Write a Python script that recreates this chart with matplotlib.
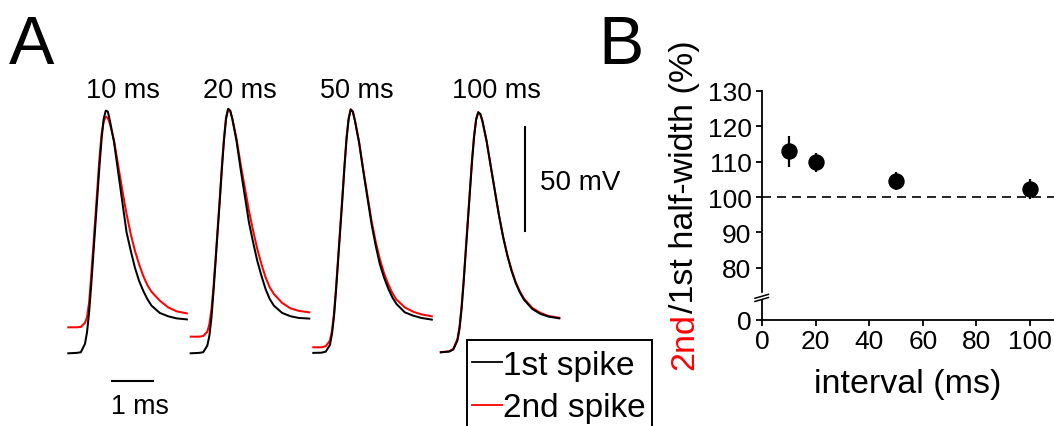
import numpy as np
import matplotlib
matplotlib.use("Agg")
import matplotlib.pyplot as plt
from matplotlib.lines import Line2D
from matplotlib.patches import Rectangle
import matplotlib.transforms as mtransforms

plt.rcParams['font.family'] = ['Liberation Sans', 'DejaVu Sans']

# ---------------- data ----------------
# Panel A: spike waveforms (time in ms from trace start, voltage in mV)
t_ms = [0, 0.2, 0.3, 0.4, 0.45, 0.5, 0.55, 0.6, 0.65, 0.7, 0.75, 0.8, 0.85, 0.9, 0.95,
        1.0, 1.1, 1.2, 1.3, 1.4, 1.5, 1.6, 1.7, 1.8, 1.9, 2.0, 2.2, 2.4, 2.6, 2.85]

first_10 = [-70.0, -69.8, -69.5, -65.5, -59.9, -50.3, -37.5, -23.0, -8.6, 5.8, 20.2, 33.1, 42.7, 46.7, 46.2,
            41.9, 31.4, 17.0, 2.6, -11.8, -20.6, -28.7, -35.1, -39.9, -43.9, -47.1, -50.6, -52.2, -53.2, -53.7]
second_10 = [-57.5, -57.5, -57.3, -55.4, -52.7, -45.5, -32.7, -19.0, -4.6, 9.8, 24.2, 35.5, 41.4, 43.8, 43.1,
             40.3, 32.3, 20.2, 8.2, -3.0, -12.6, -20.6, -27.1, -32.7, -37.2, -40.4, -44.7, -47.9, -49.8, -50.8]
first_20 = [-70.0, -69.8, -69.5, -66.3, -61.5, -52.7, -39.9, -25.5, -11.0, 3.4, 18.6, 32.3, 42.7, 47.5, 46.7,
            42.7, 32.3, 18.6, 5.8, -7.0, -16.6, -25.5, -32.7, -39.1, -43.9, -47.1, -50.6, -52.2, -53.0, -53.3]
second_20 = [-62.0, -62.0, -61.7, -59.6, -55.9, -48.7, -37.5, -23.8, -9.4, 5.0, 20.2, 33.4, 43.5, 47.5, 46.5,
             43.0, 33.4, 21.0, 9.8, -1.4, -11.0, -19.8, -27.1, -33.5, -38.3, -41.5, -45.8, -48.4, -49.6, -50.3]
first_50 = [-69.8, -69.7, -69.2, -66.0, -60.7, -51.9, -39.1, -24.7, -10.2, 4.2, 19.4, 33.1, 42.7, 47.2, 46.2,
            41.9, 31.4, 17.8, 5.0, -7.8, -18.2, -27.1, -33.5, -38.8, -43.1, -46.3, -50.3, -51.9, -53.0, -53.8]
second_50 = [-67.1, -67.1, -66.6, -63.9, -59.1, -50.3, -37.5, -23.0, -8.6, 5.8, 20.6, 33.9, 43.0, 47.3, 46.2,
             42.2, 31.8, 18.6, 6.1, -6.2, -16.3, -24.7, -31.4, -36.7, -41.0, -44.2, -47.9, -50.0, -51.3, -52.2]
first_100 = [-69.5, -69.2, -68.2, -63.9, -58.3, -48.7, -35.9, -21.4, -7.0, 7.4, 21.8, 33.9, 42.3, 45.9, 45.1,
             41.9, 32.3, 20.2, 8.2, -3.8, -14.2, -23.0, -30.3, -36.2, -40.7, -44.2, -48.7, -51.1, -52.4, -53.2]
second_100 = [-69.5, -69.0, -67.9, -63.1, -57.2, -47.4, -34.6, -20.2, -5.7, 8.7, 23.0, 34.7, 42.7, 45.9, 44.9,
              41.5, 31.9, 19.9, 7.9, -3.8, -14.1, -22.7, -29.8, -35.7, -40.2, -43.7, -48.2, -50.6, -52.1, -52.9]

trace_intervals = [10, 20, 50, 100]
first_spikes = [first_10, first_20, first_50, first_100]
second_spikes = [second_10, second_20, second_50, second_100]

# Panel B: 2nd/1st half-width ratio (%)
interval_ms = [10, 20, 50, 100]
ratio_pct = [112.9, 109.8, 104.5, 102.3]
ratio_err = [4.5, 2.6, 2.6, 2.8]
b_xticks = [0, 20, 40, 60, 80, 100]
b_yticks = [80, 90, 100, 110, 120, 130]

# ---------------- layout ----------------
W, H = 1054, 427
fig = plt.figure(figsize=(W / 100, H / 100), dpi=100)
fig.patch.set_facecolor('white')


def fx(px):
    return px / W


def fy(py):
    return 1 - py / H


FS_TICK = 19
FS_LABEL = 24.5
FS_PANEL = 49
FS_A = 19.5

# Panel A axes (ms / mV coordinates)
axA = fig.add_axes([0, 0, 640 / W, 1])
axA.set_xlim(-1.642, 13.743)
axA.set_ylim(-104.95, 100.34)
axA.axis('off')

trace_offsets = [0.0, 2.942, 5.889, 8.954]
t = np.array(t_ms)
for off, f1, s2 in zip(trace_offsets, first_spikes, second_spikes):
    axA.plot(t + off, s2, color='#ff0000', lw=1.45, clip_on=False, solid_joinstyle='round')
    axA.plot(t + off, f1, color='black', lw=1.45, clip_on=False, solid_joinstyle='round')

title_x = [123.3, 240.0, 356.7, 496.7]
for xc, iv in zip(title_x, trace_intervals):
    fig.text(fx(xc), fy(98.3), f"{iv} ms", ha='center', va='baseline', fontsize=FS_A)

# scale bars
axA.plot([10.978, 10.978], [-11.2, -11.2 + 50], color='black', lw=1.5, clip_on=False)
axA.plot([1.04, 1.04 + 1.0], [-83.3, -83.3], color='black', lw=1.5, clip_on=False)
fig.text(fx(540), fy(190), "50 mV", ha='left', va='baseline', fontsize=20)
fig.text(fx(140), fy(414), "1 ms", ha='center', va='baseline', fontsize=19.3)

# legend (manual)
fig.add_artist(Rectangle((fx(466.7), fy(432)), (651.7 - 466.7) / W, (432 - 340.7) / H,
                         transform=fig.transFigure, fill=False, lw=1.4, ec='black', clip_on=False))
fig.add_artist(Line2D([fx(471.7), fx(501.7)], [fy(363.3)] * 2, color='black', lw=1.3,
                      transform=fig.transFigure))
fig.add_artist(Line2D([fx(471.7), fx(501.7)], [fy(405.5)] * 2, color='#ff0000', lw=1.3,
                      transform=fig.transFigure))
fig.text(fx(503), fy(375), "1st spike", ha='left', va='baseline', fontsize=24)
fig.text(fx(503), fy(416.7), "2nd spike", ha='left', va='baseline', fontsize=24)

# panel letters
fig.text(fx(9), fy(64), "A", ha='left', va='baseline', fontsize=FS_PANEL)
fig.text(fx(598), fy(64), "B", ha='left', va='baseline', fontsize=FS_PANEL)

# Panel B
axB = fig.add_axes([fx(762), fy(321), (W - 762) / W, (321 - 92) / H])
zero_pos = 65.2
axB.set_xlim(0, 108.96)
axB.set_ylim(zero_pos, 130)
for s in ['top', 'right']:
    axB.spines[s].set_visible(False)
for s in ['left', 'bottom']:
    axB.spines[s].set_linewidth(1.3)
axB.set_xticks(b_xticks)
axB.set_yticks([zero_pos] + b_yticks)
axB.set_yticklabels(['0'] + [str(v) for v in b_yticks])
axB.tick_params(axis='both', direction='out', length=4.5, width=1.3, labelsize=FS_TICK)
axB.tick_params(axis='x', pad=2)
axB.tick_params(axis='y', pad=3)

axB.axhline(100, color='black', lw=1.2, ls=(0, (5.4, 3.6)), zorder=1)
axB.errorbar(interval_ms, ratio_pct, yerr=ratio_err, fmt='o', color='black', ms=10.8,
             elinewidth=1.6, capsize=0, clip_on=False, zorder=3)

# axis break marks
bt = mtransforms.blended_transform_factory(axB.transAxes, axB.transData)
axB.add_patch(Rectangle((-0.01, 71.3), 0.02, 1.4, transform=bt, color='white', clip_on=False, zorder=4))
for yb in [71.0, 71.9]:
    axB.add_artist(Line2D([-0.024, 0.022], [yb - 0.55, yb + 0.55], transform=bt, color='black',
                          lw=1.1, clip_on=False, zorder=5))

# axis labels
fig.text(fx(908), fy(393), "interval (ms)", ha='center', va='baseline', fontsize=FS_LABEL)
t1 = fig.text(fx(693), fy(370), "2nd", rotation=90, rotation_mode='anchor', ha='left',
              va='baseline', fontsize=FS_LABEL, color='#ff0000')
renderer = fig.canvas.get_renderer()
h1 = t1.get_window_extent(renderer=renderer).height
fig.text(fx(693), fy(370 - h1), "/1st half-width (%)", rotation=90, rotation_mode='anchor',
         ha='left', va='baseline', fontsize=FS_LABEL, color='black')

fig.savefig("out.png", dpi=100, facecolor='white')
